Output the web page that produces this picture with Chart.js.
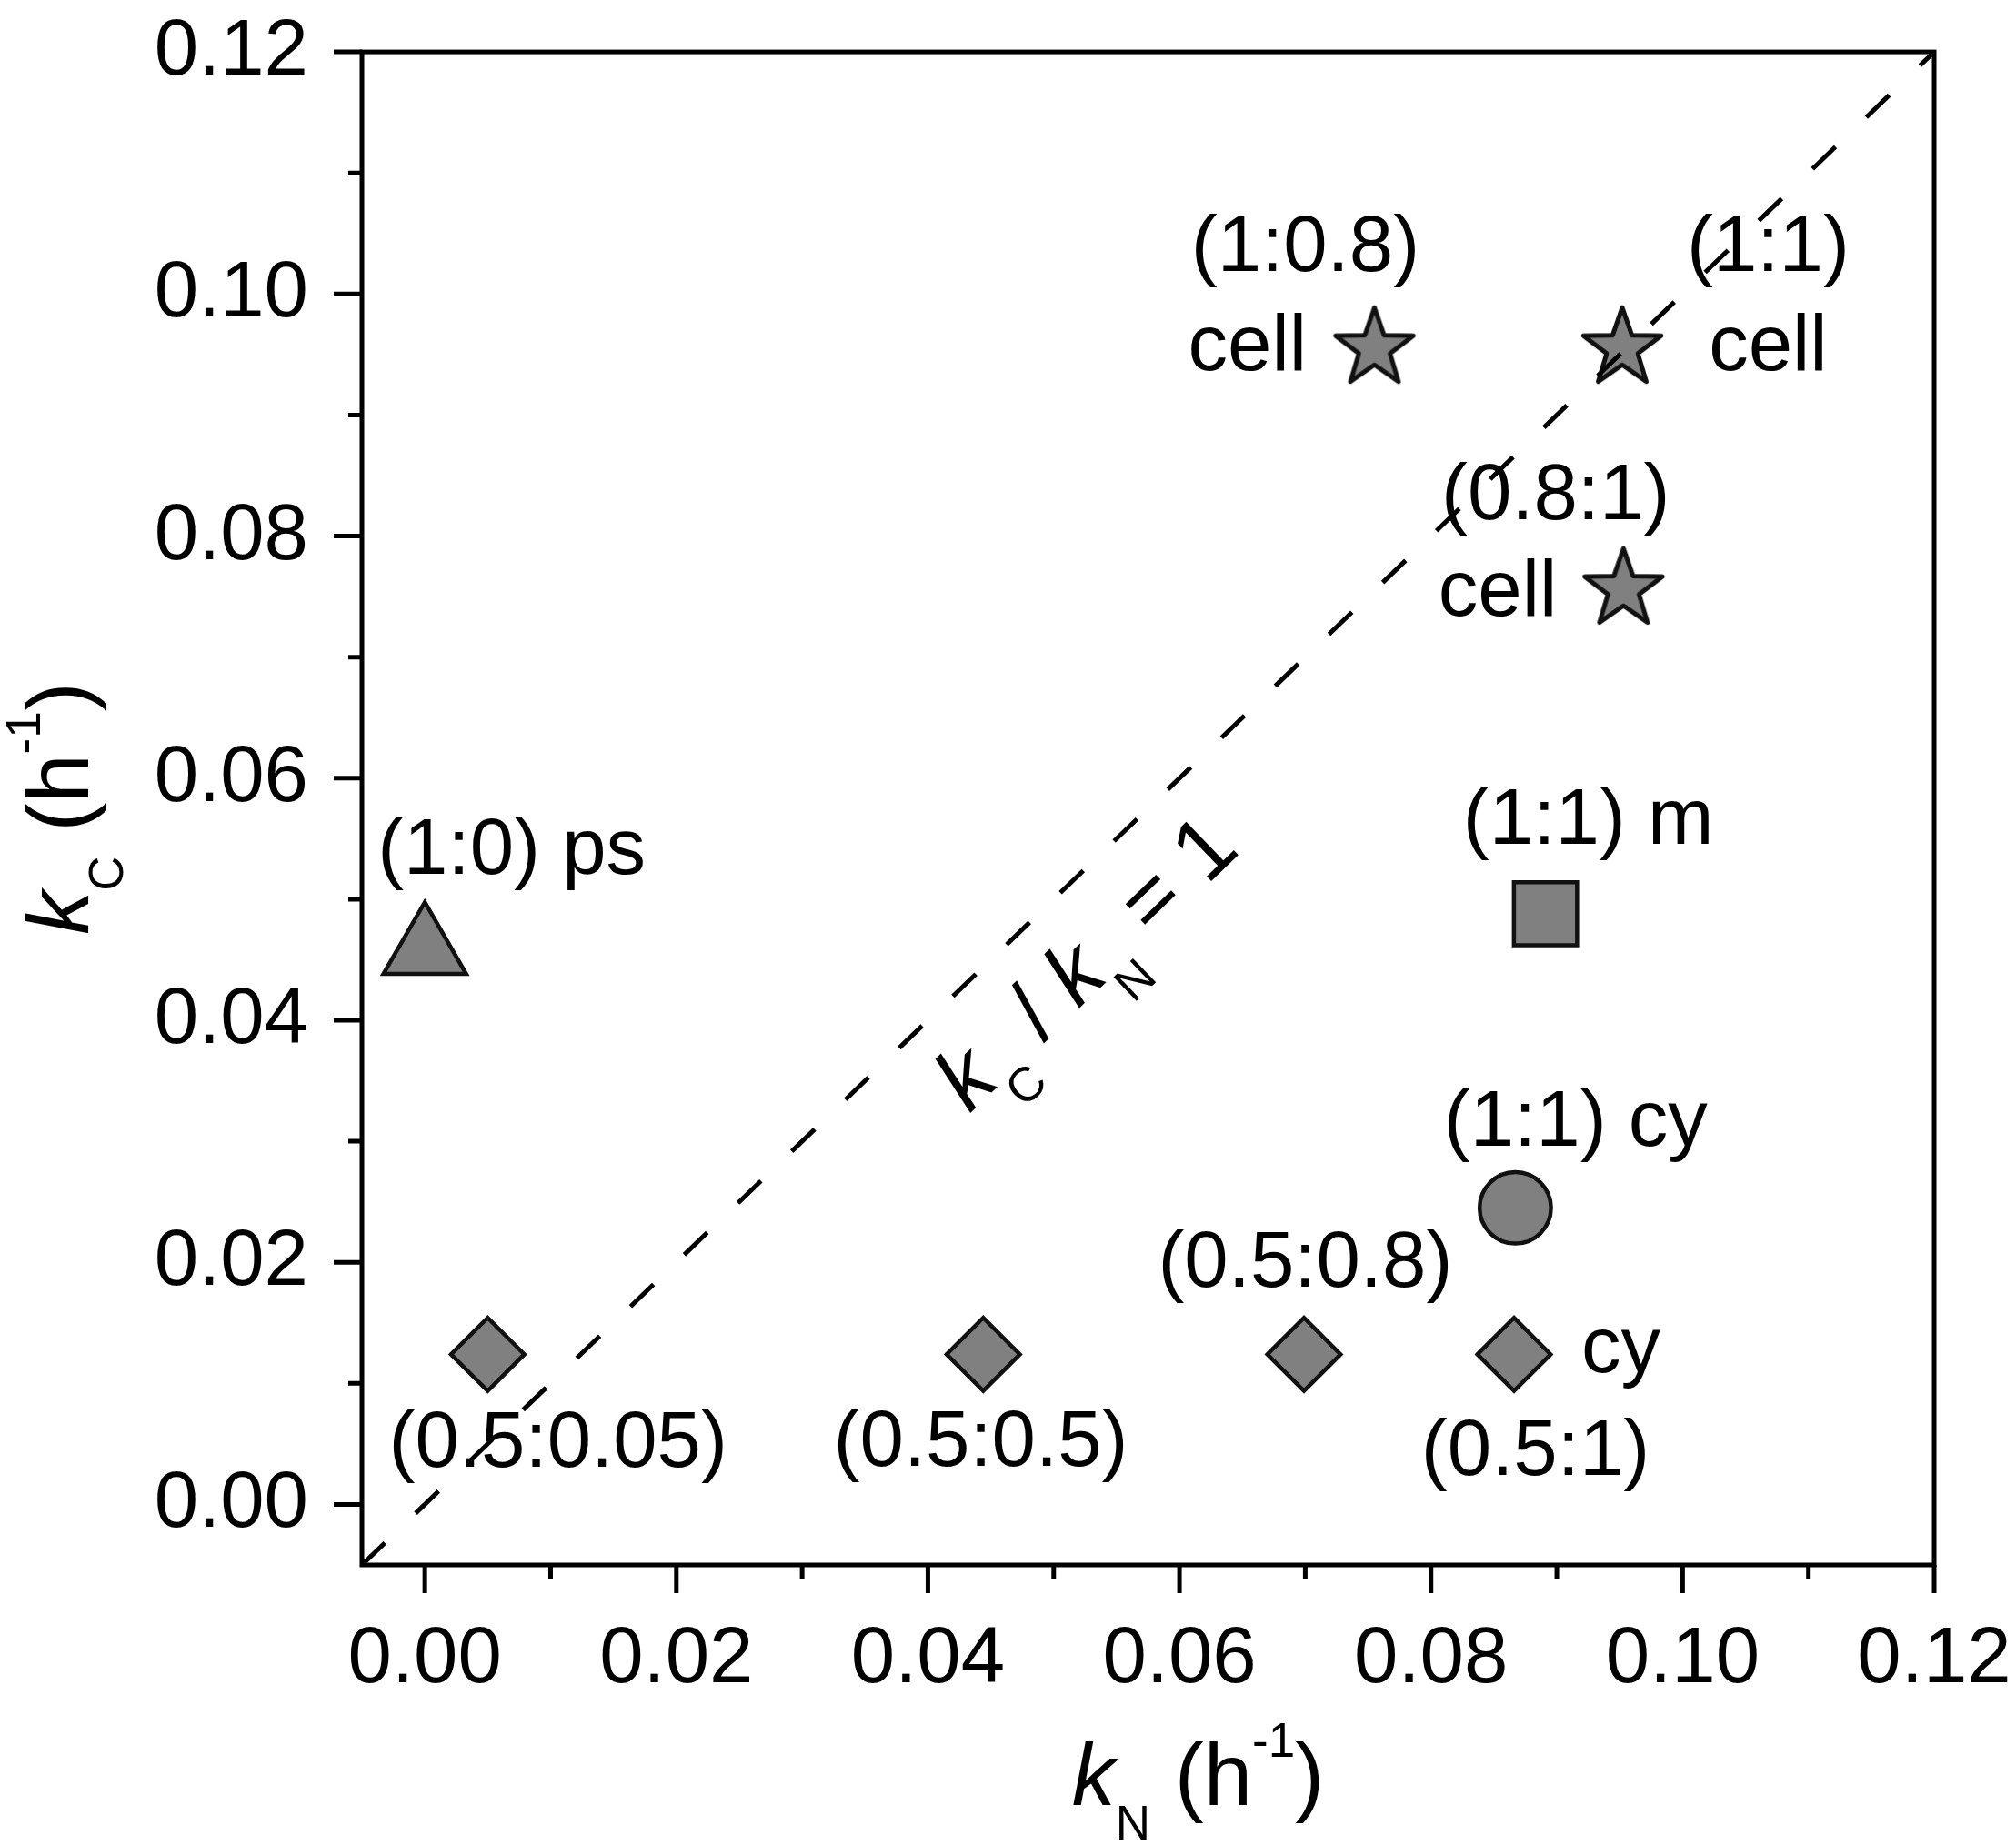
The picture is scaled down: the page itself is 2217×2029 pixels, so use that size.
<!DOCTYPE html>
<html><head><meta charset="utf-8">
<script src="https://cdn.jsdelivr.net/npm/chart.js@4.4.1/dist/chart.umd.min.js"></script>
<style>html,body{margin:0;padding:0;background:#fff;}#wrap{width:2217px;height:2029px;}</style>
</head><body><div id="wrap"><canvas id="c" width="2217" height="2029"></canvas></div>
<script>
// ---- data ----
const xMajorTicks = [0, 0.02, 0.04, 0.06, 0.08, 0.10, 0.12];
const yMajorTicks = [0, 0.02, 0.04, 0.06, 0.08, 0.10, 0.12];
const xMinorTicks = [0.01, 0.03, 0.05, 0.07, 0.09, 0.11];
const yMinorTicks = [0.01, 0.03, 0.05, 0.07, 0.09, 0.11];
const xTickLabels = ['0.00', '0.02', '0.04', '0.06', '0.08', '0.10', '0.12'];
const yTickLabels = ['0.00', '0.02', '0.04', '0.06', '0.08', '0.10', '0.12'];
const axisMin = -0.005, axisMax = 0.12;

const diamondX = [0.005, 0.0444, 0.0699, 0.0866];
const diamondY = [0.0124, 0.0124, 0.0124, 0.0124];
const triangleX = [0.0];
const triangleY = [0.0458];
const squareX = [0.0891];
const squareY = [0.0488];
const circleX = [0.0867];
const circleY = [0.0245];
const starX = [0.0755, 0.0952, 0.0953];
const starY = [0.0955, 0.0955, 0.0756];
const refLineX = [-0.005, 0.12];
const refLineY = [-0.005, 0.12];

const labelTexts = ['(1:0) ps', '(1:0.8)', 'cell', '(1:1)', 'cell', '(0.8:1)', 'cell',
  '(1:1) m', '(1:1) cy', 'cy', '(0.5:1)', '(0.5:0.8)', '(0.5:0.05)', '(0.5:0.5)'];
const labelX = [0.0069, 0.0700, 0.0654, 0.1068, 0.1068, 0.0899, 0.0853,
  0.0925, 0.0915, 0.0951, 0.0883, 0.0700, 0.0106, 0.0442];
const labelY = [0.0521, 0.1019, 0.0937, 0.1019, 0.0937, 0.0814, 0.0734,
  0.0546, 0.0296, 0.0109, 0.0024, 0.0180, 0.0031, 0.0032];
const diagLabelX = 0.0526, diagLabelY = 0.0447;

// ---- styles ----
const FILL = '#808080', EDGE = '#111111', LW = 4.5;
const FONT = '"Liberation Sans", Arial, sans-serif';

function zip(xs, ys) { return xs.map((x, i) => ({x: x, y: ys[i]})); }

function makeStar(R, ratio, lw) {
  const s = Math.ceil(2 * R + 2 * lw + 8);
  const c = document.createElement('canvas');
  c.width = s; c.height = s;
  const g = c.getContext('2d');
  const cx = s / 2, cy = s / 2;
  g.beginPath();
  for (let i = 0; i < 10; i++) {
    const r = (i % 2) ? R * ratio : R;
    const a = -Math.PI / 2 + i * Math.PI / 5;
    const px = cx + r * Math.cos(a), py = cy + r * Math.sin(a);
    if (i === 0) g.moveTo(px, py); else g.lineTo(px, py);
  }
  g.closePath();
  g.fillStyle = FILL; g.fill();
  g.lineWidth = lw; g.lineJoin = 'round'; g.strokeStyle = EDGE; g.stroke();
  return c;
}
const starImg = makeStar(45, 0.4, 5);

function richWidth(ctx, parts) {
  let w = 0;
  parts.forEach(p => { ctx.font = p.f; w += ctx.measureText(p.t).width; });
  return w;
}
function drawRich(ctx, parts, x, y) {
  let cx = x - richWidth(ctx, parts) / 2;
  parts.forEach(p => {
    ctx.font = p.f;
    ctx.fillText(p.t, cx, y + (p.dy || 0));
    cx += ctx.measureText(p.t).width;
  });
}
const BIG = '96px ' + FONT, BIGI = 'italic 96px ' + FONT, SMALL = '53px ' + FONT;

const decorPlugin = {
  id: 'decor',
  beforeDatasetsDraw(chart) {
    const ctx = chart.ctx, xs = chart.scales.x, ys = chart.scales.y;
    ctx.save();
    ctx.fillStyle = '#000';
    ctx.font = '87px ' + FONT;
    ctx.textAlign = 'center';
    ctx.textBaseline = 'alphabetic';
    labelTexts.forEach((t, i) => {
      ctx.fillText(t, xs.getPixelForValue(labelX[i]), ys.getPixelForValue(labelY[i]));
    });
    ctx.restore();
  },
  afterDraw(chart) {
    const ctx = chart.ctx, a = chart.chartArea, xs = chart.scales.x, ys = chart.scales.y;
    ctx.save();
    ctx.strokeStyle = '#000';
    ctx.fillStyle = '#000';
    ctx.lineWidth = 5;
    ctx.lineCap = 'butt';
    ctx.strokeRect(a.left, a.top, a.right - a.left, a.bottom - a.top);
    // ticks
    ctx.beginPath();
    yMajorTicks.forEach(v => { const p = ys.getPixelForValue(v); ctx.moveTo(a.left - 31, p); ctx.lineTo(a.left, p); });
    yMinorTicks.forEach(v => { const p = ys.getPixelForValue(v); ctx.moveTo(a.left - 15, p); ctx.lineTo(a.left, p); });
    xMajorTicks.forEach(v => { const p = xs.getPixelForValue(v); ctx.moveTo(p, a.bottom); ctx.lineTo(p, a.bottom + 31); });
    xMinorTicks.forEach(v => { const p = xs.getPixelForValue(v); ctx.moveTo(p, a.bottom); ctx.lineTo(p, a.bottom + 15); });
    ctx.stroke();
    // tick labels
    ctx.font = '87px ' + FONT;
    ctx.textBaseline = 'alphabetic';
    ctx.textAlign = 'right';
    yMajorTicks.forEach((v, i) => ctx.fillText(yTickLabels[i], a.left - 59, ys.getPixelForValue(v) + 25));
    ctx.textAlign = 'center';
    xMajorTicks.forEach((v, i) => ctx.fillText(xTickLabels[i], xs.getPixelForValue(v), a.bottom + 129));
    // axis titles
    ctx.textAlign = 'left';
    const xt = [{t: 'k', f: BIGI}, {t: 'N', f: SMALL, dy: 38}, {t: ' (h', f: BIG}, {t: '-1', f: SMALL, dy: -53}, {t: ')', f: BIG}];
    drawRich(ctx, xt, (a.left + a.right) / 2 + 55, a.bottom + 264);
    const yt = [{t: 'k', f: BIGI}, {t: 'C', f: SMALL, dy: 38}, {t: ' (h', f: BIG}, {t: '-1', f: SMALL, dy: -53}, {t: ')', f: BIG}];
    ctx.save();
    ctx.translate(97, (a.top + a.bottom) / 2 + 0);
    ctx.rotate(-Math.PI / 2);
    drawRich(ctx, yt, 0, 0);
    ctx.restore();
    // diagonal label
    const x0 = xs.getPixelForValue(refLineX[0]), y0 = ys.getPixelForValue(refLineY[0]);
    const x1 = xs.getPixelForValue(refLineX[1]), y1 = ys.getPixelForValue(refLineY[1]);
    const ang = Math.atan2(y1 - y0, x1 - x0);
    const dt = [{t: 'k', f: BIGI}, {t: 'C', f: SMALL, dy: 38}, {t: ' / ', f: BIG}, {t: 'k', f: BIGI}, {t: 'N', f: SMALL, dy: 38}, {t: ' = 1', f: BIG}];
    ctx.save();
    ctx.translate(xs.getPixelForValue(diagLabelX), ys.getPixelForValue(diagLabelY));
    ctx.rotate(ang);
    drawRich(ctx, dt, 0, 30);
    ctx.restore();
    ctx.restore();
  }
};

const ptBase = {backgroundColor: FILL, borderColor: EDGE, borderWidth: LW, showLine: false, order: 1};

new Chart(document.getElementById('c'), {
  type: 'scatter',
  data: {
    datasets: [
      {type: 'line', data: zip(refLineX, refLineY), borderColor: '#000', borderWidth: 5,
        borderDash: [35, 47], pointRadius: 0, fill: false, order: 0, tension: 0},
      Object.assign({data: zip(diamondX, diamondY), pointStyle: 'rectRot', pointRadius: 40.3}, ptBase),
      Object.assign({data: zip(triangleX, triangleY), pointStyle: 'triangle', pointRadius: 52.6}, ptBase),
      Object.assign({data: zip(squareX, squareY), pointStyle: 'rect', pointRadius: 49.1}, ptBase),
      Object.assign({data: zip(circleX, circleY), pointStyle: 'circle', pointRadius: 39.25}, ptBase),
      Object.assign({data: zip(starX, starY), pointStyle: starImg, pointRadius: 45}, ptBase)
    ]
  },
  options: {
    responsive: false,
    devicePixelRatio: 1,
    animation: false,
    layout: {padding: {left: 398, right: 90, top: 43, bottom: 308}},
    plugins: {legend: {display: false}, tooltip: {enabled: false}},
    scales: {
      x: {type: 'linear', min: axisMin, max: axisMax, display: false},
      y: {type: 'linear', min: axisMin, max: axisMax, display: false}
    }
  },
  plugins: [decorPlugin]
});
</script>
</body></html>
